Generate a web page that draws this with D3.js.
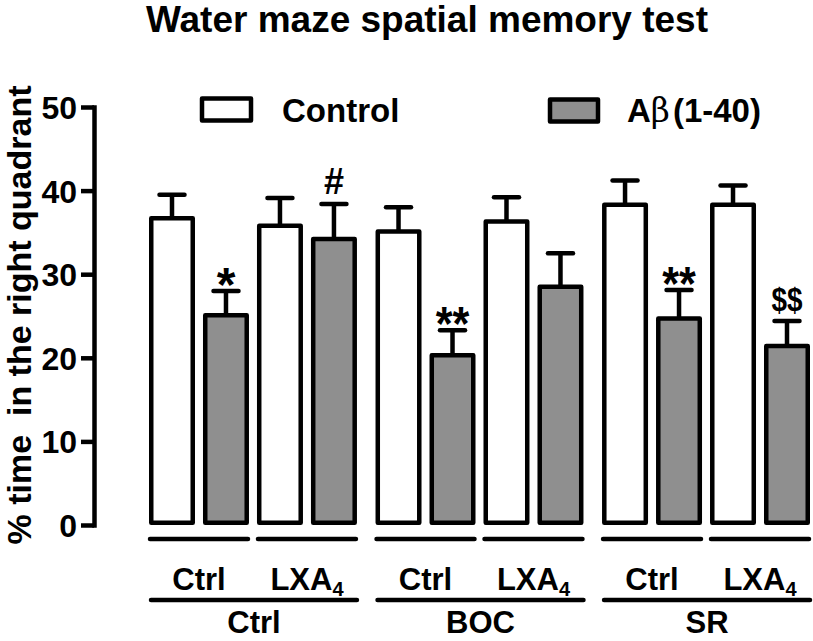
<!DOCTYPE html>
<html>
<head>
<meta charset="utf-8">
<script src="https://cdn.jsdelivr.net/npm/d3@7"></script>
<style>
  html, body { margin: 0; padding: 0; background: #fff; }
  svg { display: block; }
  text { font-family: "Liberation Sans", Arial, Helvetica, sans-serif; font-weight: bold; fill: #000; }
</style>
</head>
<body>
<script>
// ---- data ----
const groups = ["Ctrl", "BOC", "SR"];
const treatments = ["Ctrl", "LXA4"];
const seriesNames = ["Control", "Aβ(1-40)"];
const controlMeans = [36.7, 35.8, 35.1, 36.3, 38.3, 38.3];
const controlSEM   = [2.8, 3.3, 2.9, 2.9, 2.9, 2.3];
const abetaMeans   = [25.1, 34.2, 20.3, 28.5, 24.7, 21.4];
const abetaSEM     = [2.9, 4.2, 3.0, 4.0, 3.4, 3.0];
const abetaMarks   = ["*", "#", "**", "", "**", "$$"];
const yTicks = [0, 10, 20, 30, 40, 50];
const titleText = "Water maze spatial memory test";
const yLabel = "% time  in the right quadrant";

// ---- setup ----
const W = 813, H = 641;
const SW = 4.5;
const GRAY = "#8f8f8f";
const svg = d3.select("body").append("svg").attr("width", W).attr("height", H);

const y = d3.scaleLinear().domain([0, 50]).range([525, 107]);
const xg = d3.scaleBand().domain(groups).range([149, 810]).paddingInner(0.082).paddingOuter(0);
const xs = d3.scaleBand().domain(d3.range(4)).range([0, xg.bandwidth()]).paddingInner(0.148);

// flatten bars
const bars = [];
groups.forEach((g, gi) => {
  treatments.forEach((t, ti) => {
    const idx = gi * 2 + ti;
    bars.push({ g, k: ti * 2, series: 0, v: controlMeans[idx], e: controlSEM[idx], mark: "" });
    bars.push({ g, k: ti * 2 + 1, series: 1, v: abetaMeans[idx], e: abetaSEM[idx], mark: abetaMarks[idx] });
  });
});
const bx = d => xg(d.g) + xs(d.k);
const bcx = d => bx(d) + xs.bandwidth() / 2;

// title
svg.append("text").attr("x", 427).attr("y", 32).attr("text-anchor", "middle")
  .style("font-size", "37px").text(titleText);

// y axis
const yAxis = d3.axisLeft(y).tickValues(yTicks).tickSize(13).tickSizeOuter(0).tickPadding(4);
const ga = svg.append("g").attr("transform", "translate(94,0)").call(yAxis);
ga.select(".domain").attr("stroke", "#000").attr("stroke-width", SW).attr("stroke-linecap", "square");
ga.selectAll(".tick line").attr("stroke", "#000").attr("stroke-width", SW);
ga.selectAll(".tick text").style("font-size", "32px").style("font-family", "'Liberation Sans', Arial, sans-serif")
  .style("font-weight", "bold").attr("dy", "0.36em");

// y label
svg.append("text").attr("transform", "translate(31,315) rotate(-90)")
  .attr("text-anchor", "middle").style("font-size", "34px").style("white-space", "pre").text(yLabel);

// error bars
const eb = svg.append("g").attr("stroke", "#000").attr("stroke-width", SW);
eb.selectAll("line.v").data(bars).join("line").attr("class", "v")
  .attr("x1", bcx).attr("x2", bcx).attr("y1", d => y(d.v)).attr("y2", d => y(d.v + d.e));
eb.selectAll("line.c").data(bars).join("line").attr("class", "c")
  .attr("x1", d => bcx(d) - 12.5).attr("x2", d => bcx(d) + 12.5)
  .attr("y1", d => y(d.v + d.e)).attr("y2", d => y(d.v + d.e)).attr("stroke-linecap", "round");

// bars
svg.append("g").selectAll("rect").data(bars).join("rect")
  .attr("x", d => bx(d) + SW / 2).attr("width", xs.bandwidth() - SW)
  .attr("y", d => y(d.v)).attr("height", d => y(0) - y(d.v) - SW / 2)
  .attr("fill", d => d.series === 0 ? "#fff" : GRAY)
  .attr("stroke", "#000").attr("stroke-width", SW).attr("stroke-linejoin", "round");

// significance marks
const markStyle = {
  "*":  { size: 48, off: 10, sx: 1 },
  "**": { size: 48, off: 10, sx: 0.9 },
  "#":  { size: 36, off: -10, sx: 1 },
  "$$": { size: 34, off: -10, sx: 0.82 }
};
svg.append("g").selectAll("text").data(bars.filter(d => d.mark)).join("text")
  .attr("transform", d => `translate(${bcx(d)},${y(d.v + d.e) + markStyle[d.mark].off}) scale(${markStyle[d.mark].sx},1)`)
  .attr("text-anchor", "middle").style("font-size", d => markStyle[d.mark].size + "px").text(d => d.mark);

// legend
const lg = svg.append("g");
lg.append("rect").attr("x", 202).attr("y", 98.5).attr("width", 49).attr("height", 22)
  .attr("fill", "#fff").attr("stroke", "#000").attr("stroke-width", SW).attr("stroke-linejoin", "round");
lg.append("text").attr("x", 282).attr("y", 122).style("font-size", "33px").text(seriesNames[0]);
lg.append("rect").attr("x", 550).attr("y", 99.5).attr("width", 48).attr("height", 22)
  .attr("fill", GRAY).attr("stroke", "#000").attr("stroke-width", SW).attr("stroke-linejoin", "round");
const t2 = lg.append("text").attr("x", 627).attr("y", 122).style("font-size", "33px");
t2.append("tspan").text("A");
t2.append("tspan").style("font-weight", "normal").style("font-family", "'DejaVu Serif', serif").text("β");
t2.append("tspan").attr("dx", 3).text("(1-40)");

// level-1 lines and labels (treatment within group)
const lv = svg.append("g");
groups.forEach(g => {
  treatments.forEach((t, ti) => {
    const x0 = xg(g) + xs(ti * 2) + 1;
    const x1 = xg(g) + xs(ti * 2 + 1) + xs.bandwidth() - 1;
    lv.append("line").attr("x1", x0).attr("x2", x1).attr("y1", 539).attr("y2", 539)
      .attr("stroke", "#000").attr("stroke-width", SW).attr("stroke-linecap", "round");
    const tx = lv.append("text").attr("x", (x0 + x1) / 2).attr("y", 590).attr("text-anchor", "middle")
      .style("font-size", "31px");
    if (t === "LXA4") {
      tx.append("tspan").text("LXA");
      tx.append("tspan").attr("dy", 6).style("font-size", "20px").text("4");
    } else {
      tx.text(t);
    }
  });
  const gx0 = xg(g) + 2, gx1 = xg(g) + xg.bandwidth();
  lv.append("line").attr("x1", gx0).attr("x2", gx1).attr("y1", 600).attr("y2", 600)
    .attr("stroke", "#000").attr("stroke-width", SW).attr("stroke-linecap", "round");
  lv.append("text").attr("x", (gx0 + gx1) / 2).attr("y", 633).attr("text-anchor", "middle")
    .style("font-size", "31px").text(g);
});
</script>
</body>
</html>
